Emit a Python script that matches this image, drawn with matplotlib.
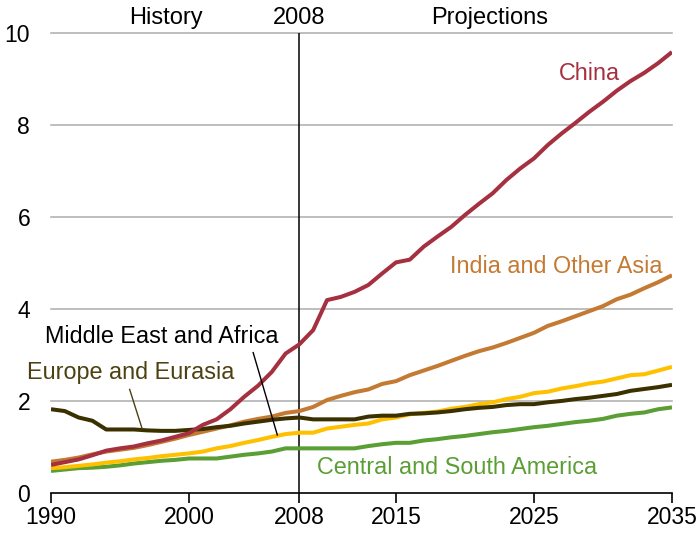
import matplotlib
matplotlib.use("Agg")
import matplotlib.pyplot as plt

plt.rcParams['font.family'] = ['Liberation Sans', 'DejaVu Sans']

years = list(range(1990, 2036))

china = [0.61, 0.67, 0.73, 0.82, 0.92, 0.97, 1.01, 1.08, 1.14, 1.22,
         1.30, 1.48, 1.60, 1.82, 2.09, 2.33, 2.63, 3.03, 3.23, 3.54,
         4.19, 4.26, 4.37, 4.52, 4.77, 5.01, 5.07, 5.35, 5.57, 5.78,
         6.04, 6.28, 6.51, 6.80, 7.05, 7.27, 7.56, 7.81, 8.04, 8.28,
         8.50, 8.74, 8.95, 9.13, 9.34, 9.58]

india = [0.68, 0.72, 0.77, 0.84, 0.90, 0.94, 0.98, 1.04, 1.11, 1.18,
         1.26, 1.33, 1.40, 1.47, 1.55, 1.61, 1.66, 1.74, 1.78, 1.87,
         2.02, 2.11, 2.19, 2.25, 2.37, 2.43, 2.56, 2.66, 2.76, 2.87,
         2.98, 3.08, 3.16, 3.26, 3.37, 3.48, 3.63, 3.73, 3.84, 3.95,
         4.06, 4.21, 4.31, 4.45, 4.58, 4.73]

europe = [1.82, 1.78, 1.64, 1.57, 1.38, 1.38, 1.38, 1.36, 1.35, 1.35,
          1.37, 1.39, 1.43, 1.46, 1.51, 1.55, 1.59, 1.62, 1.64, 1.60,
          1.60, 1.60, 1.60, 1.66, 1.68, 1.68, 1.72, 1.73, 1.75, 1.78,
          1.82, 1.85, 1.87, 1.91, 1.93, 1.93, 1.97, 2.00, 2.04, 2.07,
          2.11, 2.15, 2.22, 2.26, 2.30, 2.35]

mideast = [0.54, 0.56, 0.59, 0.62, 0.66, 0.69, 0.73, 0.76, 0.80, 0.83,
           0.86, 0.90, 0.97, 1.02, 1.09, 1.15, 1.22, 1.28, 1.31, 1.31,
           1.40, 1.44, 1.48, 1.51, 1.60, 1.64, 1.71, 1.74, 1.77, 1.83,
           1.87, 1.93, 1.97, 2.04, 2.09, 2.17, 2.20, 2.27, 2.32, 2.38,
           2.42, 2.49, 2.56, 2.58, 2.66, 2.74]

csam = [0.48, 0.51, 0.54, 0.55, 0.57, 0.60, 0.64, 0.67, 0.70, 0.72,
        0.75, 0.75, 0.75, 0.79, 0.83, 0.86, 0.90, 0.97, 0.97, 0.97,
        0.97, 0.97, 0.97, 1.02, 1.06, 1.09, 1.09, 1.14, 1.17, 1.21,
        1.24, 1.28, 1.32, 1.35, 1.39, 1.43, 1.46, 1.50, 1.54, 1.57,
        1.61, 1.68, 1.72, 1.75, 1.82, 1.86]

xticks = [1990, 2000, 2008, 2015, 2025, 2035]
yticks = [0, 2, 4, 6, 8, 10]

c_china = '#A5303F'
c_india = '#C47A32'
c_europe = '#3B3000'
c_europe_lbl = '#4D4012'
c_mideast = '#FFC000'
c_csam = '#5A9E34'

fig = plt.figure(figsize=(6.99, 5.33), dpi=100)
ax = fig.add_axes([51/699, 40/533, 621/699, 460.3/533])

ax.set_xlim(1990, 2035)
ax.set_ylim(0, 10)

for yv in yticks[1:]:
    ax.axhline(yv, color='#b3b3b3', lw=1.2, zorder=1, clip_on=False)

ax.axvline(2008, color='black', lw=1.1, zorder=2)

lw = 2.9
ax.plot(years, csam, color=c_csam, lw=lw, zorder=3, solid_capstyle='butt')
ax.plot(years, mideast, color=c_mideast, lw=lw, zorder=3, solid_capstyle='butt')
ax.plot(years, europe, color=c_europe, lw=lw, zorder=4, solid_capstyle='butt')
ax.plot(years, india, color=c_india, lw=lw, zorder=3, solid_capstyle='butt')
ax.plot(years, china, color=c_china, lw=lw, zorder=5, solid_capstyle='butt')

for s in ['top', 'right', 'left']:
    ax.spines[s].set_visible(False)
ax.spines['bottom'].set_linewidth(1.2)
ax.spines['bottom'].set_zorder(6)

ax.set_xticks(xticks)
ax.set_xticklabels([str(v) for v in xticks], fontsize=16.5)
ax.set_yticks(yticks)
ax.set_yticklabels([str(v) for v in yticks], fontsize=16.5)
ax.tick_params(axis='x', direction='out', length=7, width=1.2, pad=2)
ax.tick_params(axis='y', length=0, pad=15)

# Leader lines
ax.plot([1995.7, 1996.6], [2.25, 1.40], color=c_europe_lbl, lw=1.0, zorder=6)
ax.plot([2004.65, 2006.4], [3.05, 1.26], color='black', lw=1.0, zorder=6)

fs = 16.8
ax.text(2029.0, 9.12, 'China', color=c_china, fontsize=fs, ha='center', va='center')
ax.text(2026.6, 4.93, 'India and Other Asia', color=c_india, fontsize=fs, ha='center', va='center')
ax.text(1998.0, 3.39, 'Middle East and Africa', color='black', fontsize=fs, ha='center', va='center')
ax.text(1995.8, 2.61, 'Europe and Eurasia', color=c_europe_lbl, fontsize=fs, ha='center', va='center')
ax.text(2019.4, 0.56, 'Central and South America', color=c_csam, fontsize=fs, ha='center', va='center')

ax.text(1998.3, 10.31, 'History', fontsize=17, ha='center', va='center', clip_on=False)
ax.text(2008.0, 10.31, '2008', fontsize=17, ha='center', va='center', clip_on=False)
ax.text(2021.8, 10.31, 'Projections', fontsize=17, ha='center', va='center', clip_on=False)

fig.savefig('out.png', dpi=100)
